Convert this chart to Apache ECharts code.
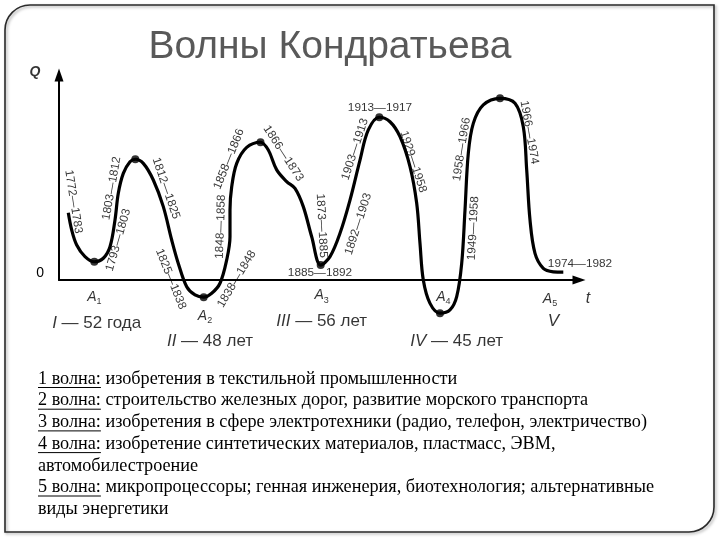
<!DOCTYPE html>
<html><head><meta charset="utf-8">
<script src="https://cdn.jsdelivr.net/npm/echarts@6/dist/echarts.min.js"></script>
<style>html,body{margin:0;padding:0;background:#fff}#c{width:720px;height:540px}</style>
</head><body><div id="c"></div>
<script>
// ---- data (t: conventional time units, Q: conventional activity units) ----
const curveT = [1.86,2.54,3.54,5.2,7.06,8.86,10.2,11.2,11.86,12.86,14.2,15.26,16.86,18.86,20.86,22.54,23.86,25.54,27.2,28.94,30.54,32.2,33.54,34.2,34.2,34.54,35.54,37.54,40.3,41.86,43.54,45.54,47.2,48.86,50.54,52.34,54.2,56.2,58.2,60.2,61.86,64.06,66.2,68.2,70.2,71.54,72.2,72.86,74.2,76.2,78.2,79.54,80.54,81.2,81.86,82.86,84.86,88.2,91.2,92.86,93.54,94.2,95.2,96.86,98.86,100.86];
const curveQ = [32.8,24.4,17.1,11.4,8.9,10.6,16.2,29.3,42.3,52.0,57.7,58.9,56.9,48.8,35.8,19.5,8.1,-3.3,-7.3,-8.4,-6.5,-1.6,9.8,21.1,34.1,45.5,56.9,64.7,67.2,63.4,53.7,48.0,44.7,35.8,21.1,7.3,11.4,22.8,39.0,58.5,73.2,79.4,77.2,69.9,55.3,37.4,17.9,0,-11.4,-16.2,-14.6,-8.1,8.1,34.1,61.8,76.4,85.4,88.6,86.2,74.8,53.7,29.3,13.0,5.7,4.0,3.8];
const extremaT = [7.06,15.26,28.94,40.3,52.34,64.06,76.2,88.2];
const extremaQ = [8.9,58.9,-8.4,67.2,7.3,79.4,-16.2,88.6];
const periodLabels = ['1772—1783','1803—1812','1793—1803','1812—1825','1825—1838','1848—1858','1858—1866','1838—1848','1866—1873','1873—1885','1885—1892','1903—1913','1892—1903','1913—1917','1929—1958','1958—1966','1949—1958','1966—1974','1974—1982'];
const troughNames = ['1','2','3','4','5'];
const waveNames = ['I','II','III','IV','V'];
const waveLengths = ['— 52 года','— 48 лет','— 56 лет','— 45 лет',''];
const noteHeads = ['1 волна:','2 волна:','3 волна:','4 волна:','','5 волна:',''];
const noteBodies = [' изобретения в текстильной промышленности',' строительство железных дорог, развитие морского транспорта',' изобретения в сфере электротехники (радио, телефон, электричество)',' изобретение синтетических материалов, пластмасс, ЭВМ,','автомобилестроение',' микропроцессоры; генная инженерия, биотехнология; альтернативные','виды энергетики'];
const titleText = 'Волны Кондратьева';

// ---- annotation anchors (layout, in chart coordinates) ----
const periodAnchor = [[2.9,38.2,-81],[10.54,44.7,80],[11.86,19.5,74],[21.4,44.7,-71],[22.34,0.5,-68],[32.34,26.0,88],[34,59.0,68],[35.54,0.5,59],[44.86,61.8,-57],[52.54,26.5,-87],[52.2,3.6,0],[59.2,63.8,72],[59.86,27.3,72],[64.2,84.0,0],[70.86,57.7,-72],[80.54,63.8,81],[82.86,25.2,87],[94.06,72.0,-80],[104.2,8.1,0]];
const troughAnchor = [[7.06,-8.9],[29.2,-17.9],[52.54,-8.1],[76.86,-8.9],[98.2,-9.8]];
const waveAnchor = [[7.54,-21.1],[30.2,-30.1],[52.54,-20.3],[79.54,-30.1],[98.86,-20.3]];

const chart = echarts.init(document.getElementById('c'), null, {renderer:'canvas'});
const SANS = '"Liberation Sans", Arial, sans-serif';
const SERIF = '"Liberation Serif", "Times New Roman", serif';

const annData = [];
periodLabels.forEach((s,i)=>{
  annData.push({value:[periodAnchor[i][0],periodAnchor[i][1]],
    label:{formatter:s, rotate:periodAnchor[i][2], fontSize:11.8}});
});
troughNames.forEach((s,i)=>{
  annData.push({value:troughAnchor[i], label:{formatter:'{a|A}{s|'+s+'}'}});
});
waveNames.forEach((s,i)=>{
  annData.push({value:waveAnchor[i], label:{formatter:'{r|'+s+'}'+(waveLengths[i]?'{n| '+waveLengths[i]+'}':''), fontSize:17}});
});
annData.push({value:[-4.8,101.5], label:{formatter:'{q|Q}'}});
annData.push({value:[105.8,-8.9], label:{formatter:'{t|t}'}});

// notes
const graphics = [];
graphics.push({type:'rect', shape:{x:5,y:5,width:709,height:527,r:[25,0,25,0]}, style:{fill:'none',stroke:'#2a2a2a',lineWidth:1.6, shadowBlur:3, shadowColor:'rgba(0,0,0,0.35)', shadowOffsetX:1.5, shadowOffsetY:1.5}, z:-1});
graphics.push({type:'text', x:330, y:47, style:{text:titleText, font:'39px '+SANS, fill:'#595959', textAlign:'center', textVerticalAlign:'middle'}});
const ctx = document.createElement('canvas').getContext('2d');
const noteFont = '18.2px '+SERIF;
ctx.font = noteFont;
noteHeads.forEach((h,i)=>{
  const y = 379 + i*21.7;
  graphics.push({type:'text', x:38, y:y, style:{text:h+noteBodies[i], font:noteFont, fill:'#000', textAlign:'left', textVerticalAlign:'middle'}});
  if (h) {
    const w = ctx.measureText(h).width;
    graphics.push({type:'line', shape:{x1:38,y1:y+8.5,x2:38+w,y2:y+8.5}, style:{stroke:'#000',lineWidth:1}});
  }
});

chart.setOption({
  animation:false,
  backgroundColor:'#fff',
  grid:{left:59,right:141,top:75,bottom:260,containLabel:false},
  xAxis:{type:'value',min:0,max:104,
    axisLine:{show:true,onZero:false,symbol:['none','triangle'],symbolSize:[9,13],lineStyle:{color:'#000',width:2}},
    axisTick:{show:false},axisLabel:{show:false},splitLine:{show:false}},
  yAxis:{type:'value',min:0,max:100,interval:100,
    axisLine:{show:true,onZero:false,symbol:['none','triangle'],symbolSize:[9,13],lineStyle:{color:'#000',width:2}},
    axisTick:{show:false},splitLine:{show:false},
    axisLabel:{margin:15,fontSize:14,color:'#000',fontFamily:SANS,verticalAlign:'bottom',formatter:v=>v===0?'0':''}},
  series:[
    {type:'line',name:'Q',data:curveT.map((t,i)=>[t,curveQ[i]]),smooth:0.35,showSymbol:false,clip:false,
      lineStyle:{color:'#000',width:3.2},z:3},
    {type:'scatter',data:extremaT.map((t,i)=>[t,extremaQ[i]]),symbolSize:8,itemStyle:{color:'#000'},clip:false,z:4},
    {type:'scatter',data:annData,symbolSize:0,clip:false,silent:true,z:5,
      label:{show:true,position:'inside',color:'#000',fontFamily:SANS,align:'center',verticalAlign:'middle',
        rich:{a:{fontSize:14,fontStyle:'italic',fontFamily:SANS,color:'#000',verticalAlign:'top',lineHeight:16},
              s:{fontSize:9,fontFamily:SANS,color:'#000',verticalAlign:'bottom',lineHeight:16,padding:[6,0,0,0]},
              r:{fontSize:17,fontStyle:'italic',fontFamily:SANS,color:'#000'},
              n:{fontSize:17,fontFamily:SANS,color:'#000'},
              q:{fontSize:14,fontStyle:'italic',fontWeight:'bold',fontFamily:SANS,color:'#000'},
              t:{fontSize:16,fontStyle:'italic',fontFamily:SANS,color:'#000'}}}}
  ],
  graphic:graphics
});
</script></body></html>
